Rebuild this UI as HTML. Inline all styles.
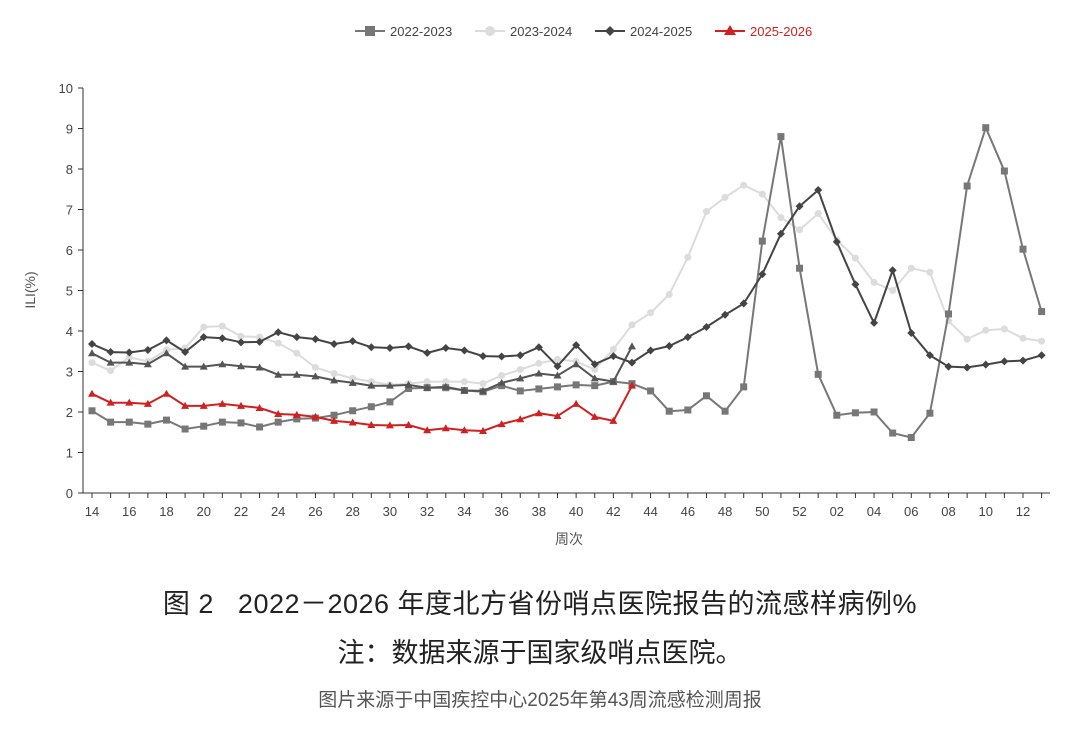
<!DOCTYPE html>
<html><head><meta charset="utf-8"><style>
body{margin:0;background:#fff;width:1080px;height:747px;overflow:hidden;font-family:"Liberation Sans","Noto Sans CJK SC",sans-serif}
.t{position:absolute;left:0;width:1080px;text-align:center;color:#222;white-space:nowrap}
</style></head><body>
<svg id="s" width="1080" height="580" style="position:absolute;left:0;top:0" font-family="Liberation Sans, Noto Sans CJK SC, sans-serif"></svg>
<div class="t" style="top:582px;font-size:27px;letter-spacing:0.5px">图 2&nbsp;&nbsp;&nbsp;2022－2026 年度北方省份哨点医院报告的流感样病例%</div>
<div class="t" style="top:631px;font-size:27px">注：数据来源于国家级哨点医院。</div>
<div class="t" style="top:685px;font-size:19px;color:#555">图片来源于中国疾控中心2025年第43周流感检测周报</div>
<script>
const X=i=>92+i*18.62, Y=v=>493-v*40.5;
const A=[3.68,3.48,3.47,3.53,3.77,3.48,3.85,3.82,3.72,3.73,3.97,3.85,3.8,3.68,3.75,3.6,3.58,3.62,3.46,3.58,3.52,3.38,3.37,3.4,3.6,3.13,3.65,3.18,3.38,3.22,3.52,3.63,3.85,4.1,4.4,4.68,5.4,6.4,7.08,7.48,6.2,5.15,4.2,5.5,3.95,3.4,3.12,3.1,3.17,3.25,3.27,3.4];
const B=[3.45,3.22,3.22,3.18,3.45,3.12,3.12,3.18,3.13,3.1,2.92,2.92,2.88,2.78,2.72,2.65,2.65,2.67,2.6,2.62,2.53,2.52,2.72,2.83,2.95,2.9,3.18,2.83,2.75,3.62];
const R=[2.45,2.23,2.23,2.2,2.45,2.15,2.15,2.2,2.15,2.1,1.95,1.93,1.88,1.78,1.74,1.68,1.67,1.68,1.55,1.6,1.55,1.53,1.7,1.82,1.97,1.9,2.2,1.88,1.78,2.65];
const G=[2.03,1.75,1.75,1.7,1.8,1.58,1.65,1.75,1.73,1.63,1.75,1.83,1.85,1.92,2.03,2.13,2.25,2.58,2.6,2.6,2.53,2.5,2.65,2.52,2.57,2.62,2.67,2.65,2.75,2.7,2.52,2.02,2.05,2.4,2.02,2.62,6.22,8.8,5.55,2.93,1.92,1.98,2.0,1.48,1.37,1.97,4.42,7.58,9.02,7.95,6.02,4.48];
const L=[3.22,3.02,3.35,3.25,3.53,3.58,4.1,4.12,3.87,3.85,3.7,3.45,3.1,2.95,2.83,2.75,2.67,2.7,2.75,2.75,2.75,2.7,2.9,3.05,3.2,3.3,3.25,3.05,3.55,4.15,4.45,4.9,5.82,6.95,7.3,7.6,7.38,6.8,6.5,6.9,6.25,5.8,5.2,5.0,5.55,5.45,4.25,3.8,4.02,4.05,3.82,3.75];
let h='';
h+=`<line x1="83" y1="88" x2="83" y2="493" stroke="#333"/><line x1="83" y1="493" x2="1050" y2="493" stroke="#333"/>`;
for(let v=0;v<=10;v++){h+=`<line x1="78" x2="83" y1="${Y(v)}" y2="${Y(v)}" stroke="#333"/><text x="73" y="${Y(v)+5}" font-size="13" fill="#444" text-anchor="end">${v}</text>`;}
for(let i=0;i<52;i++){const x=X(i);h+=`<line x1="${x}" x2="${x}" y1="493" y2="498" stroke="#333"/>`;
 if(i%2==0){let w=i<39?14+i:i-38;h+=`<text x="${x}" y="516" font-size="13" fill="#444" text-anchor="middle">${String(w).padStart(2,'0')}</text>`;}}
h+=`<text x="569" y="544" font-size="14" fill="#555" text-anchor="middle">周次</text>`;
h+=`<text transform="translate(35,290) rotate(-90)" font-size="14" fill="#555" text-anchor="middle">ILI(%)</text>`;
function line(d,c,w,m){let p=d.map((v,i)=>`${X(i).toFixed(1)},${Y(v).toFixed(1)}`).join(' ');
 let s=`<polyline points="${p}" fill="none" stroke="${c}" stroke-width="${w}"/>`;
 d.forEach((v,i)=>{const x=X(i),y=Y(v);
  if(m=='sq')s+=`<rect x="${x-3.5}" y="${y-3.5}" width="7" height="7" fill="${c}"/>`;
  else if(m=='c')s+=`<circle cx="${x}" cy="${y}" r="3.5" fill="${c}"/>`;
  else if(m=='d')s+=`<path d="M${x} ${y-4}L${x+4} ${y}L${x} ${y+4}L${x-4} ${y}Z" fill="${c}"/>`;
  else s+=`<path d="M${x} ${y-4}L${x+4} ${y+3}L${x-4} ${y+3}Z" fill="${c}"/>`;});return s;}
h+=line(L,'#dcdcdc',2,'c');h+=line(G,'#777',2,'sq');h+=line(B,'#555',2,'t');h+=line(A,'#444',2,'d');h+=line(R,'#d02020',2,'t');
const lg=[[355,'#777','sq','2022-2023','#444'],[475,'#dcdcdc','c','2023-2024','#444'],[595,'#444','d','2024-2025','#444'],[715,'#d02020','t','2025-2026','#d02020']];
lg.forEach(([x,c,m,t,tc])=>{h+=`<line x1="${x}" x2="${x+30}" y1="31" y2="31" stroke="${c}" stroke-width="2"/>`;
 const cx=x+15,cy=31;
 if(m=='sq')h+=`<rect x="${cx-5}" y="${cy-5}" width="10" height="10" fill="${c}"/>`;
 else if(m=='c')h+=`<circle cx="${cx}" cy="${cy}" r="5" fill="${c}"/>`;
 else if(m=='d')h+=`<path d="M${cx} ${cy-5}L${cx+5} ${cy}L${cx} ${cy+5}L${cx-5} ${cy}Z" fill="${c}"/>`;
 else h+=`<path d="M${cx} ${cy-6}L${cx+6} ${cy+4}L${cx-6} ${cy+4}Z" fill="${c}"/>`;
 h+=`<text x="${x+35}" y="36" font-size="13" fill="${tc}">${t}</text>`;});
document.getElementById('s').innerHTML=h;
</script>
</body></html>
